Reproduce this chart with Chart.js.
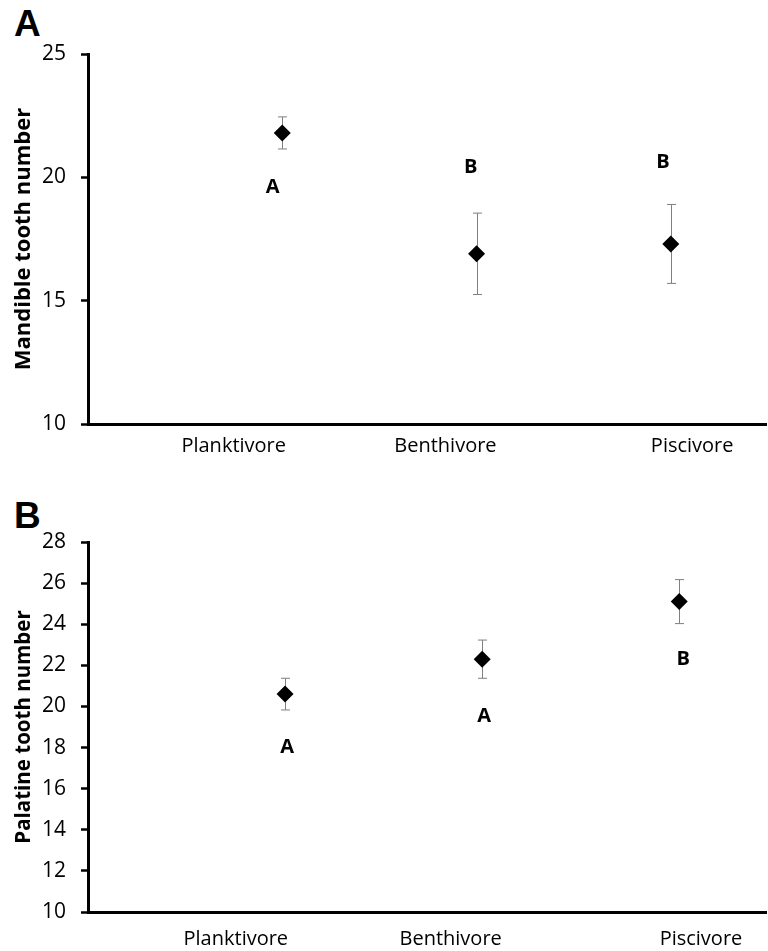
<!DOCTYPE html>
<html>
<head>
<meta charset="utf-8">
<script src="https://cdn.jsdelivr.net/npm/chart.js@4.4.0/dist/chart.umd.min.js"></script>
<style>
  body { margin: 0; background: #fff; width: 768px; height: 951px; overflow: hidden; position: relative; }
  .panel { position: absolute; left: 0; width: 768px; }
  .tag { position: absolute; left: 14px; font-family: "Liberation Sans", Arial, sans-serif; font-weight: bold; font-size: 37px; line-height: 37px; }
</style>
</head>
<body>
<div class="tag" style="top:5px;">A</div>
<div class="tag" style="top:497px;">B</div>
<div class="panel" style="top:0; height:470px;"><canvas id="mycanvas"></canvas></div>
<div class="panel" style="top:470px; height:481px;"><canvas id="mycanvas2"></canvas></div>
<script>
// categories and values
var categories = ['Planktivore', 'Benthivore', 'Piscivore'];

var mandibleMean = [21.8, 16.9, 17.3];
var mandibleErr = [0.65, 1.65, 1.6];
var mandibleLetters = ['A', 'B', 'B'];
var mandibleLetterY = [19.6, 20.4, 20.6];

var palatineMean = [20.6, 22.3, 25.1];
var palatineErr = [0.77, 0.93, 1.07];
var palatineLetters = ['A', 'A', 'B'];
var palatineLetterY = [18.0, 19.5, 22.3];

var fontFam = '"Open Sans", sans-serif';

// whisker bars + significance letters
var extras = {
  id: 'extras',
  beforeDatasetsDraw: function(chart, args, opts) {
    var ctx = chart.ctx, xs = chart.scales.x, ys = chart.scales.y;
    ctx.save();
    ctx.strokeStyle = '#7f7f7f';
    ctx.lineWidth = 1;
    opts.mean.forEach(function(m, i) {
      var x = Math.round(xs.getPixelForValue(i + 1)) + 0.5;
      var yt = ys.getPixelForValue(m + opts.err[i]);
      var yb = ys.getPixelForValue(m - opts.err[i]);
      ctx.beginPath();
      ctx.moveTo(x, yt); ctx.lineTo(x, yb);
      ctx.moveTo(x - 4.5, yt); ctx.lineTo(x + 4.5, yt);
      ctx.moveTo(x - 4.5, yb); ctx.lineTo(x + 4.5, yb);
      ctx.stroke();
    });
    ctx.restore();
  },
  afterDatasetsDraw: function(chart, args, opts) {
    var ctx = chart.ctx, xs = chart.scales.x, ys = chart.scales.y;
    ctx.save();
    ctx.fillStyle = '#000';
    ctx.font = 'bold 20px ' + fontFam;
    ctx.textAlign = 'center';
    ctx.textBaseline = 'middle';
    opts.letters.forEach(function(l, i) {
      ctx.fillText(l, xs.getPixelForValue(i + 1 + opts.letterDx[i]), ys.getPixelForValue(opts.letterY[i]));
    });
    ctx.restore();
  }
};

function makeChart(el, o) {
  var points = o.mean.map(function(m, i) { return {x: i + 1, y: m}; });
  var labelShift = [-0.25, -0.16, 0.11];
  return new Chart(el, {
    type: 'scatter',
    data: {
      datasets: [{
        data: points,
        pointStyle: 'rectRot',
        pointRadius: 8.5,
        pointHoverRadius: 8.5,
        backgroundColor: '#000',
        borderColor: '#000',
        borderWidth: 0
      }]
    },
    plugins: [extras],
    options: {
      responsive: true,
      maintainAspectRatio: false,
      animation: false,
      layout: { autoPadding: false, padding: { left: 0, right: 2, top: o.top, bottom: 0 } },
      plugins: {
        legend: { display: false },
        tooltip: { enabled: false },
        extras: { mean: o.mean, err: o.err, letters: o.letters, letterY: o.letterY, letterDx: o.letterDx }
      },
      scales: {
        x: {
          type: 'linear',
          min: 0,
          max: o.xMax,
          grid: { display: false },
          border: { display: true, color: '#000', width: 3 },
          afterBuildTicks: function(s) {
            s.ticks = categories.map(function(c, i) { return {value: i + 1 + labelShift[i]}; });
          },
          afterFit: function(s) {
            s.height = o.xHeight;
            s.paddingLeft = 0;
            s.paddingRight = 0;
          },
          ticks: {
            autoSkip: false,
            maxRotation: 0,
            padding: o.xPad,
            color: '#000',
            font: { family: fontFam, size: 20 },
            callback: function(v, i) { return categories[i]; }
          }
        },
        y: {
          min: o.yMin,
          max: o.yMax,
          afterFit: function(s) { s.width = 88; },
          grid: { drawOnChartArea: false, drawTicks: true, tickLength: 7, tickWidth: 2.5, tickColor: '#000' },
          border: { display: true, color: '#000', width: 3 },
          ticks: {
            stepSize: o.step,
            padding: 15,
            color: '#000',
            font: { family: fontFam, size: 21 }
          },
          title: {
            display: true,
            text: o.title,
            color: '#000',
            padding: { top: o.titlePad, bottom: 0 },
            font: { family: fontFam, size: o.titleSize, weight: 'bold' }
          }
        }
      }
    }
  });
}

makeChart(document.getElementById('mycanvas'), {
  mean: mandibleMean, err: mandibleErr, letters: mandibleLetters, letterY: mandibleLetterY,
  letterDx: [-0.05, -0.03, -0.04],
  title: 'Mandible tooth number', titleSize: 22, titlePad: 11,
  yMin: 10, yMax: 25, step: 5,
  top: 54, xHeight: 46, xPad: 2, xMax: 3.49
});

makeChart(document.getElementById('mycanvas2'), {
  mean: palatineMean, err: palatineErr, letters: palatineLetters, letterY: palatineLetterY,
  letterDx: [0.01, 0.01, 0.02],
  title: 'Palatine tooth number', titleSize: 20.5, titlePad: 12,
  yMin: 10, yMax: 28, step: 2,
  top: 72, xHeight: 39, xPad: 7, xMax: 3.44
});
</script>
</body>
</html>
